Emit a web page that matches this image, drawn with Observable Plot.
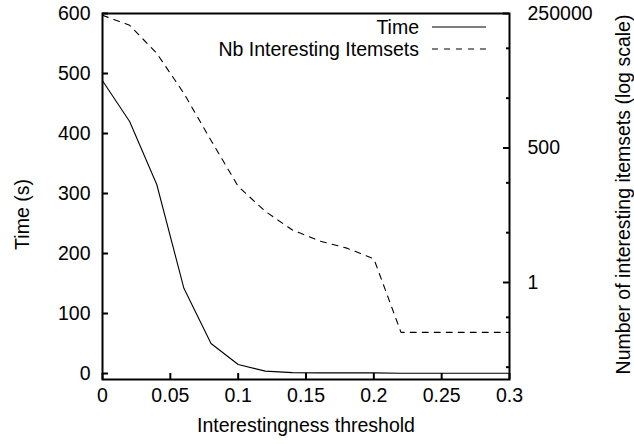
<!DOCTYPE html>
<html>
<head>
<meta charset="utf-8">
<script src="https://cdn.jsdelivr.net/npm/d3@7"></script>
<script src="https://cdn.jsdelivr.net/npm/@observablehq/plot@0.6"></script>
<style>
  body { margin: 0; background: #fff; }
  #wrap { position: relative; width: 634px; height: 444px; font-family: 'Liberation Sans', Arial, sans-serif; }
  #legend { position: absolute; left: 0; top: 0; pointer-events: none; }
</style>
</head>
<body>
<div id="wrap"></div>
<script>
// ---- data ----
const thresholds = [0, 0.02, 0.04, 0.06, 0.08, 0.1, 0.12, 0.14, 0.16, 0.18, 0.2, 0.22, 0.24, 0.26, 0.28, 0.3];
const timeSeconds = [488, 420, 315, 142, 50, 15, 4, 1.5, 1, 1, 1, 0.5, 0.5, 0.5, 0.5, 0.5];
const nbItemsets = [230000, 145000, 39700, 6240, 710, 85, 26.7, 11.3, 6.8, 4.9, 3.0, 0.1, 0.1, 0.1, 0.1, 0.1];

const xTicks = [0, 0.05, 0.1, 0.15, 0.2, 0.25, 0.3];
const timeTicks = [0, 100, 200, 300, 400, 500, 600];
const countTicks = [1, 500, 250000];
const countMinorTicks = [0.02, 0.2, 10, 100, 5000, 50000];
const seriesNames = ["Time", "Nb Interesting Itemsets"];
const xLabel = "Interestingness threshold";
const yLabel = "Time (s)";
const y2Label = "Number of interesting itemsets (log scale)";

// ---- layout ----
const W = 634, H = 444;
const mL = 102, mR = 125, mT = 13, mB = 65;
const PW = W - mL - mR, PH = H - mT - mB;
const font = "'Liberation Sans', Arial, sans-serif";
const fs = 19.5;

// secondary (log) axis mapped into the primary y domain
const y2 = d3.scaleLog().domain([1, 250000]).range([151.67, 600]);

const timeData = thresholds.map((t, i) => ({t, v: timeSeconds[i]}));
const countData = thresholds.map((t, i) => ({t, v: y2(nbItemsets[i])}));

const chart = Plot.plot({
  width: W, height: H,
  marginLeft: mL, marginRight: mR, marginTop: mT, marginBottom: mB,
  style: {fontFamily: font, fontSize: fs + "px", color: "black", background: "white"},
  x: {domain: [0, 0.3]},
  y: {domain: [-10, 600]},
  marks: [
    Plot.line(timeData, {x: "t", y: "v", stroke: "black", strokeWidth: 1.1}),
    Plot.line(countData, {x: "t", y: "v", stroke: "black", strokeWidth: 1.1, strokeDasharray: "6,6"}),
    // inward ticks
    Plot.tickY(timeTicks, {y: d => d, insetRight: PW - 6, strokeWidth: 2, stroke: "black"}),
    Plot.tickY(countTicks, {y: d => y2(d), insetLeft: PW - 6, strokeWidth: 2, stroke: "black"}),
    Plot.tickY(countMinorTicks, {y: d => y2(d), insetLeft: PW - 3, strokeWidth: 2, stroke: "black"}),
    Plot.tickX(xTicks, {x: d => d, insetTop: PH - 6, strokeWidth: 2, stroke: "black"}),
    // tick labels
    Plot.axisX({ticks: xTicks, tickSize: 0, tickPadding: 9, tickFormat: d => String(d), label: null, fontSize: fs}),
    Plot.axisY({ticks: timeTicks, anchor: "left", tickSize: 0, tickPadding: 12, label: null, fontSize: fs}),
    Plot.axisY({ticks: countTicks.map(d => y2(d)), anchor: "right", tickSize: 0, tickPadding: 18, label: null, fontSize: fs,
                tickFormat: v => String(Math.round(y2.invert(v)))}),
    // axis titles
    Plot.text([xLabel], {text: d => d, frameAnchor: "bottom", dy: 46, textAnchor: "middle", lineAnchor: "middle", fontSize: fs}),
    Plot.text([yLabel], {text: d => d, frameAnchor: "left", dx: -80, dy: 18, rotate: -90, textAnchor: "middle", lineAnchor: "middle", fontSize: fs}),
    Plot.text([y2Label], {text: d => d, frameAnchor: "right", dx: 114, dy: -2, rotate: -90, textAnchor: "middle", lineAnchor: "middle", fontSize: fs}),
    Plot.frame({stroke: "black", strokeWidth: 2})
  ]
});

const wrap = document.getElementById("wrap");
wrap.appendChild(chart);

// legend (inside the plot, top right)
const leg = d3.select(wrap).append("svg").attr("id", "legend").attr("width", W).attr("height", 70);
const dashes = [null, "6,6"];
seriesNames.forEach((name, i) => {
  const yy = 27 + i * 22;
  leg.append("text").attr("x", 419).attr("y", yy).attr("text-anchor", "end")
    .attr("dominant-baseline", "central").attr("font-family", font).attr("font-size", fs).attr("fill", "black").text(name);
  const ln = leg.append("line").attr("x1", 432).attr("x2", 486).attr("y1", yy).attr("y2", yy)
    .attr("stroke", "black").attr("stroke-width", 1.1);
  if (dashes[i]) ln.attr("stroke-dasharray", dashes[i]);
});
</script>
</body>
</html>
